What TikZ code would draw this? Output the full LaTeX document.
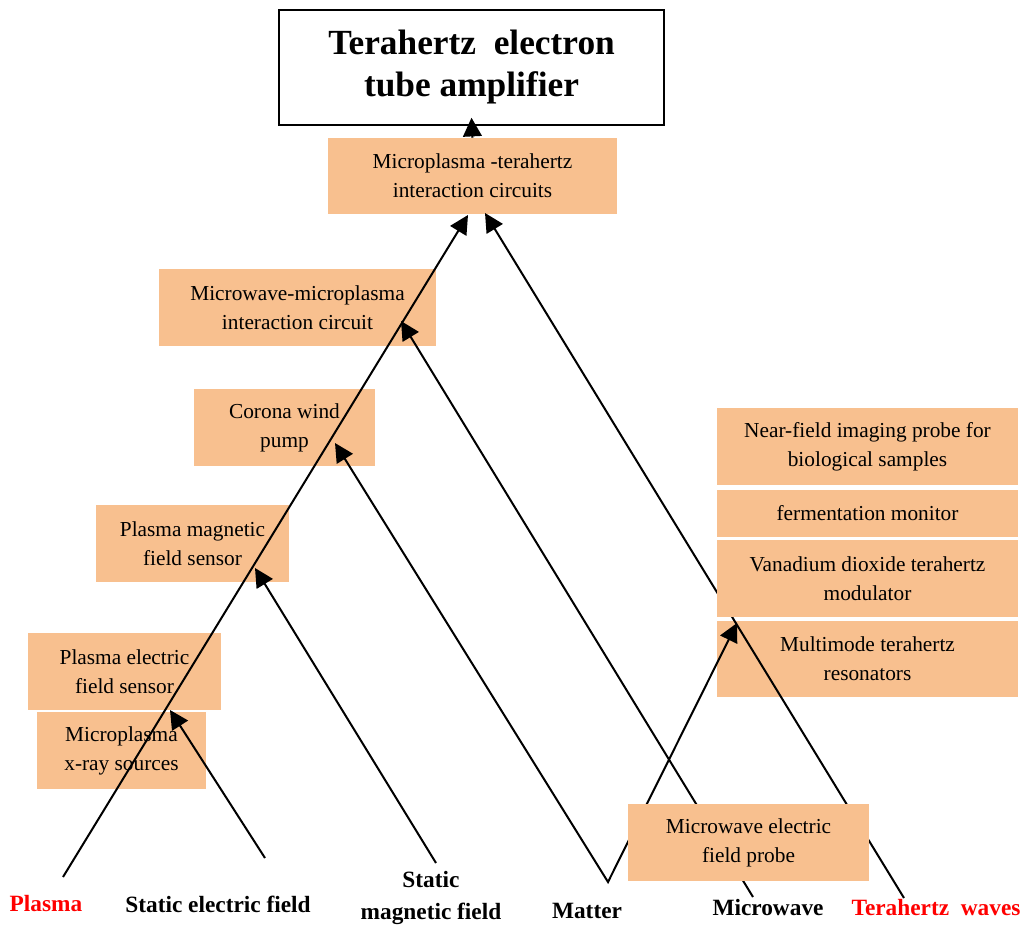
\documentclass[tikz,border=0pt]{standalone}
\usepackage{fontspec}
\setmainfont{Liberation Serif}
\usetikzlibrary{arrows.meta}
\definecolor{peach}{RGB}{248,192,143}
\definecolor{lblred}{RGB}{255,0,0}
\begin{document}
\begin{tikzpicture}[x=0.75pt,y=-0.75pt,
  box/.style 2 args={fill=peach,draw=none,inner sep=0pt,align=center,
    minimum width=#1*0.75pt,minimum height=#2*0.75pt,
    font=\fontsize{16}{21.75}\selectfont},
  titlebox/.style={draw=black,line width=1.1pt,fill=white,inner sep=0pt,align=center,
    minimum width=385*0.75pt,minimum height=115*0.75pt,
    font=\fontsize{26.5}{31.5}\selectfont\bfseries},
  lbl/.style={inner sep=0pt,align=center,font=\fontsize{17.5}{24}\selectfont\bfseries},
  tip/.tip={Triangle[length=14pt,width=14pt]},
  conn/.style={line width=1.5pt,-tip},
]
\useasboundingbox (0,0) rectangle (1023,930);

% title
\node[titlebox] (title) at (471.5,67.5) {Terahertz\ \ electron\\tube amplifier};

% boxes under the lines
\node[box={289}{76}] (mt) at (472.5,176) {Microplasma -terahertz\\interaction circuits};
\node[box={277}{77}] (mm) at (297.5,307.5) {Microwave-microplasma\\interaction circuit};
\node[box={181}{77}] (cw) at (284.5,427.5) {Corona wind\\pump};
\node[box={193}{77}] (pmf) at (192.5,543.5) {Plasma magnetic\\field sensor};
\node[box={193}{77}] (pef) at (124.5,671.5) {Plasma electric\\field sensor};
\node[box={169}{77}] (xr) at (121.5,750.5) {Microplasma\\x-ray sources};
\node[box={301}{77}] (nf) at (867.5,446.5) {Near-field imaging probe for\\biological samples};
\node[box={301}{47}] (fm) at (867.5,513.5) {fermentation monitor};
\node[box={301}{76}] (mtr) at (867.5,659) {Multimode terahertz\\resonators};

% bottom labels
\node[lbl,text=lblred] (plasma) at (46,904) {Plasma};
\node[lbl] (sef) at (218,904) {Static electric field};
\node[lbl] (smf) at (431,898) {Static\\magnetic field};
\node[lbl] (matter) at (587,911) {Matter};
\node[lbl] (mw) at (768,908) {Microwave};
\node[lbl,text=lblred] (thz) at (936,908) {Terahertz\ \ waves};

% connector ends
\coordinate (pS) at (63,877);   \coordinate (pE) at (468,215);
\coordinate (seS) at (265,858); \coordinate (seE) at (170,710);
\coordinate (smS) at (436,863); \coordinate (smE) at (255,568);
\coordinate (mV) at (608,882);  \coordinate (mL) at (335,443); \coordinate (mR) at (737,623);
\coordinate (mwS) at (753,897); \coordinate (mwE) at (401,321);
\coordinate (thS) at (904,898); \coordinate (thE) at (485,213);

% connectors
\draw[conn] (mt.north) -- ([yshift=6pt]title.south);
\draw[conn] (pS) -- (pE);
\draw[conn] (seS) -- (seE);
\draw[conn] (smS) -- (smE);
\draw[line width=1.5pt,tip-tip] (mL) -- (mV) -- (mR);
\draw[conn] (mwS) -- (mwE);
\draw[conn] (thS) -- (thE);

% boxes over the lines
\node[box={301}{77}] (vd) at (867.5,578.5) {Vanadium dioxide terahertz\\modulator};
\node[box={241}{77}] (mep) at (748.5,842.5) {Microwave electric\\field probe};
\end{tikzpicture}
\end{document}
